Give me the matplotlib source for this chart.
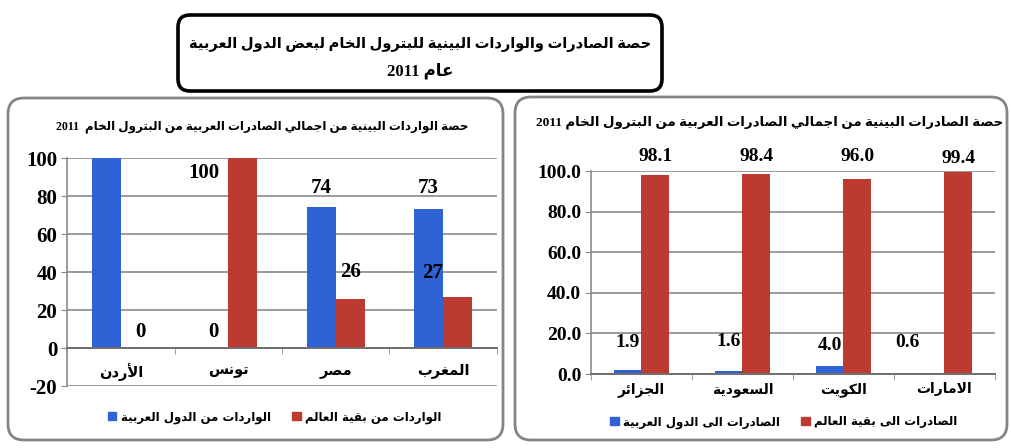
import re

import matplotlib
matplotlib.use("Agg")
import matplotlib.pyplot as plt
import numpy as np
from matplotlib.patches import FancyBboxPatch, Patch

# left panel: share of inter-Arab crude imports
IMP_COUNTRIES = ["الأردن", "تونس", "مصر", "المغرب"]
IMP_ARAB = [100, 0, 74, 73]
IMP_WORLD = [0, 100, 26, 27]
IMP_TICKS = [-20, 0, 20, 40, 60, 80, 100]

# right panel: share of inter-Arab crude exports
EXP_COUNTRIES = ["الجزائر", "السعودية", "الكويت", "الامارات"]
EXP_ARAB = [1.9, 1.6, 4.0, 0.6]
EXP_WORLD = [98.1, 98.4, 96.0, 99.4]
EXP_TICKS = [0, 20, 40, 60, 80, 100]

MAIN_TITLE = ["حصة الصادرات والواردات البينية للبترول الخام لبعض الدول العربية", "عام 2011"]
IMP_TITLE = "حصة الواردات البينية من اجمالي الصادرات العربية من البترول الخام  2011"
EXP_TITLE = "حصة الصادرات البينية من اجمالي الصادرات العربية من البترول الخام 2011"
IMP_LEGEND = ["الواردات من الدول العربية", "الواردات من بقية العالم"]
EXP_LEGEND = ["الصادرات الى الدول العربية", "الصادرات الى بقية العالم"]

BLUE = "#2f62d4"
RED = "#bd3a31"
GRID = "#8a8a8a"
ARABIC = ["DejaVu Sans"]
NUM = ["Liberation Serif"]
MIXED = ["Liberation Serif", "DejaVu Sans"]

# --- minimal Arabic shaping: presentation forms + right-to-left order ---
# (letter, first presentation form, number of forms: iso/fin/ini/med)
_FORMS = [
    ("\u0621", 0xFE80, 1), ("\u0622", 0xFE81, 2), ("\u0623", 0xFE83, 2), ("\u0624", 0xFE85, 2),
    ("\u0625", 0xFE87, 2), ("\u0626", 0xFE89, 4), ("\u0627", 0xFE8D, 2), ("\u0628", 0xFE8F, 4),
    ("\u0629", 0xFE93, 2), ("\u062A", 0xFE95, 4), ("\u062B", 0xFE99, 4), ("\u062C", 0xFE9D, 4),
    ("\u062D", 0xFEA1, 4), ("\u062E", 0xFEA5, 4), ("\u062F", 0xFEA9, 2), ("\u0630", 0xFEAB, 2),
    ("\u0631", 0xFEAD, 2), ("\u0632", 0xFEAF, 2), ("\u0633", 0xFEB1, 4), ("\u0634", 0xFEB5, 4),
    ("\u0635", 0xFEB9, 4), ("\u0636", 0xFEBD, 4), ("\u0637", 0xFEC1, 4), ("\u0638", 0xFEC5, 4),
    ("\u0639", 0xFEC9, 4), ("\u063A", 0xFECD, 4), ("\u0641", 0xFED1, 4), ("\u0642", 0xFED5, 4),
    ("\u0643", 0xFED9, 4), ("\u0644", 0xFEDD, 4), ("\u0645", 0xFEE1, 4), ("\u0646", 0xFEE5, 4),
    ("\u0647", 0xFEE9, 4), ("\u0648", 0xFEED, 2), ("\u0649", 0xFEEF, 2), ("\u064A", 0xFEF1, 4),
]
FORMS = {ch: tuple(chr(start + k) for k in range(n)) for ch, start, n in _FORMS}
LAM_ALEF = {"\u0622": 0xFEF5, "\u0623": 0xFEF7, "\u0625": 0xFEF9, "\u0627": 0xFEFB}


def ar(text):
    units = []
    i = 0
    while i < len(text):
        c = text[i]
        if c == "\u0644" and i + 1 < len(text) and text[i + 1] in LAM_ALEF:
            start = LAM_ALEF[text[i + 1]]
            units.append((c, (chr(start), chr(start + 1))))
            i += 2
            continue
        units.append((c, FORMS.get(c)))
        i += 1
    out = []
    for k, (c, forms) in enumerate(units):
        if forms is None:
            out.append(c)
            continue
        prev = units[k - 1][1] if k > 0 else None
        nxt = units[k + 1][1] if k + 1 < len(units) else None
        jp = prev is not None and len(prev) == 4
        jn = nxt is not None and len(forms) == 4
        idx = 3 if (jp and jn) else 1 if jp else 2 if jn else 0
        out.append(forms[idx] if idx < len(forms) else forms[0])
    vis = "".join(out)[::-1]
    return re.sub(r"[0-9A-Za-z.,%]+", lambda m: m.group(0)[::-1], vis)


def draw_panel(ax, countries, arab, world, ticks, fmt, arab_off, world_off,
               num_size, cat_size, pad):
    # the category axis sits on the zero line; set it before the tick labels
    for side in ("top", "right"):
        ax.spines[side].set_visible(False)
    ax.spines["bottom"].set_position(("data", 0))
    ax.spines["left"].set_color(GRID)
    ax.spines["bottom"].set_color("#6f6f6f")
    ax.spines["left"].set_linewidth(1.2)
    ax.spines["bottom"].set_linewidth(1.4)

    x = np.arange(len(countries))
    w = 0.27
    bars_a = ax.bar(x - w / 2, arab, w, color=BLUE, zorder=2)
    bars_w = ax.bar(x + w / 2, world, w, color=RED, zorder=2)
    for bars, vals, offs in ((bars_a, arab, arab_off), (bars_w, world, world_off)):
        for rect, v, off in zip(bars, vals, offs):
            if off is None:
                continue
            ax.annotate(fmt.format(v), (rect.get_x() + rect.get_width() / 2, v),
                        xytext=off, textcoords="offset points", ha="center", va="center",
                        family=NUM, weight="bold", fontsize=num_size, zorder=3)

    ax.set_xlim(-0.5, len(countries) - 0.5)
    ax.set_ylim(ticks[0], ticks[-1])
    ax.set_yticks(ticks)
    ax.set_yticklabels([fmt.format(t) for t in ticks], family=NUM, weight="bold", fontsize=num_size)
    ax.set_xticks(x)
    ax.set_xticklabels([ar(c) for c in countries], family=ARABIC, weight="bold", fontsize=cat_size)
    ax.set_xticks(np.arange(len(countries) + 1) - 0.5, minor=True)
    ax.tick_params(axis="x", which="major", length=0, pad=pad)
    ax.tick_params(axis="x", which="minor", length=4, direction="out", color=GRID)
    ax.tick_params(axis="y", length=4, direction="out", color=GRID, pad=3)
    ax.yaxis.grid(True, color=GRID, lw=1.2)
    ax.set_axisbelow(True)
    ax.set_facecolor("none")


def add_legend(ax, labels, center):
    handles = [Patch(color=BLUE, label=ar(labels[0])), Patch(color=RED, label=ar(labels[1]))]
    ax.legend(handles=handles, ncol=2, loc="center", bbox_to_anchor=center,
              bbox_transform=fig.transFigure, frameon=False, handlelength=0.7,
              handleheight=0.7, handletextpad=0.4, columnspacing=1.8,
              prop={"family": ARABIC, "weight": "bold", "size": 8.5})


W, H = 1012, 448
fig = plt.figure(figsize=(W / 100, H / 100), dpi=100)

# pixel-space layer for the frames and the headline
bg = fig.add_axes([0, 0, 1, 1], zorder=0)
bg.set_xlim(0, W)
bg.set_ylim(H, 0)
bg.axis("off")
bg.add_patch(FancyBboxPatch((178, 15), 484, 76, boxstyle="round,pad=0,rounding_size=12",
                            fc="white", ec="black", lw=2.6))
bg.add_patch(FancyBboxPatch((8, 98), 495, 342, boxstyle="round,pad=0,rounding_size=16",
                            fc="white", ec="#858585", lw=2))
bg.add_patch(FancyBboxPatch((515, 97), 492, 343, boxstyle="round,pad=0,rounding_size=16",
                            fc="white", ec="#858585", lw=2))
bg.text(420, 44, ar(MAIN_TITLE[0]), ha="center", va="center", family=MIXED,
        weight="bold", fontsize=10.5)
bg.text(420, 71, ar(MAIN_TITLE[1]), ha="center", va="center", family=MIXED,
        weight="bold", fontsize=12)
bg.text(262, 127, ar(IMP_TITLE), ha="center", va="center", family=MIXED,
        weight="bold", fontsize=8.6)
bg.text(770, 122, ar(EXP_TITLE), ha="center", va="center", family=MIXED,
        weight="bold", fontsize=9.6)

ax_imp = fig.add_axes([67 / W, 1 - 386 / H, 430 / W, 228 / H], zorder=1)
draw_panel(ax_imp, IMP_COUNTRIES, IMP_ARAB, IMP_WORLD, IMP_TICKS, "{:.0f}",
           [None, (0, 11.5), (0, 14), (0, 15)],
           [(3.5, 11.5), (-28, -11), (0, 19), (-18, 17)], 15, 10.5, 11)
add_legend(ax_imp, IMP_LEGEND, (275 / W, 1 - 417 / H))

ax_exp = fig.add_axes([591 / W, 1 - 374 / H, 404 / W, 203 / H], zorder=1)
draw_panel(ax_exp, EXP_COUNTRIES, EXP_ARAB, EXP_WORLD, EXP_TICKS, "{:.1f}",
           [(0, 20), (0, 21), (0, 15), (-17, 22)],
           [(0, 13), (0, 13), (0, 16), (0, 10)], 14, 10, 6)
add_legend(ax_exp, EXP_LEGEND, (784 / W, 1 - 422 / H))

fig.savefig("out.png", dpi=100, facecolor="white")
